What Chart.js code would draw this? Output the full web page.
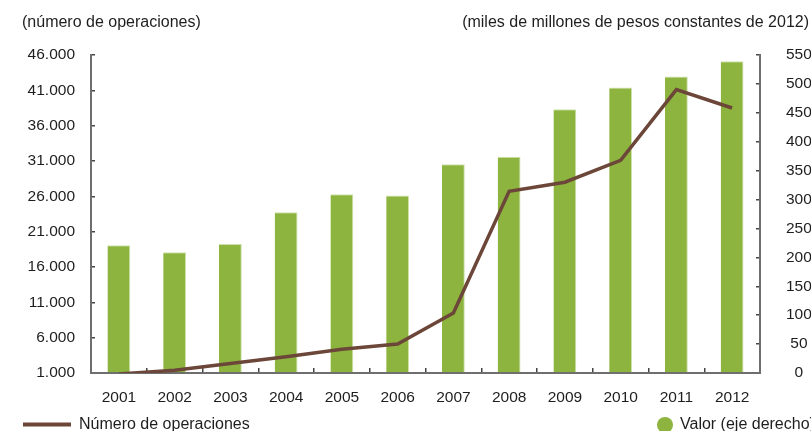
<!DOCTYPE html>
<html>
<head>
<meta charset="utf-8">
<script src="https://cdn.jsdelivr.net/npm/chart.js@4"></script>
<style>
    html, body { margin: 0; padding: 0; background: #ffffff; }
    #caja { width: 811px; height: 431px; position: relative; }
</style>
</head>
<body>
<div id="caja"><canvas id="miGrafica"></canvas></div>
<script>
// =============================
// DATOS
// =============================
const anios = ["2001", "2002", "2003", "2004", "2005", "2006", "2007", "2008", "2009", "2010", "2011", "2012"];

// número de operaciones (eje izquierdo)
const operaciones = [850, 1400, 2350, 3300, 4350, 5100, 9500, 26700, 28000, 31100, 41100, 38500];

// valor, miles de millones de pesos de 2012 (eje derecho)
const valor = [221, 209, 223, 278, 309, 307, 361, 374, 456, 494, 513, 539];

const tituloIzq = "(número de operaciones)";
const tituloDer = "(miles de millones de pesos constantes de 2012)";

const colorBarra = "#8db43e";
const colorLinea = "#6c4739";
const colorEje = "#6e6e6e";

Chart.defaults.font.family = "'Liberation Sans', Arial, sans-serif";
Chart.defaults.font.size = 15.5;
Chart.defaults.color = "#1e1e1e";

function formatoMiles(v){
    return v.toString().replace(/\B(?=(\d{3})+(?!\d))/g, ".");
}

// títulos y leyenda propios
const textosExtra = {
    id: "textosExtra",
    afterDraw(chart){
        const ctx = chart.ctx;
        const dsLinea = chart.data.datasets[0];
        const dsBarra = chart.data.datasets[1];
        ctx.save();
        ctx.font = "16px 'Liberation Sans', Arial, sans-serif";
        ctx.fillStyle = "#1e1e1e";
        ctx.textBaseline = "middle";

        ctx.textAlign = "left";
        ctx.fillText(tituloIzq, 22, 23);
        ctx.textAlign = "right";
        ctx.fillText(tituloDer, 809, 23);

        // leyenda
        ctx.strokeStyle = dsLinea.borderColor;
        ctx.lineWidth = 4;
        ctx.beginPath();
        ctx.moveTo(23, 424.5);
        ctx.lineTo(71, 424.5);
        ctx.stroke();
        ctx.textAlign = "left";
        ctx.fillText(dsLinea.label, 79, 425);

        ctx.fillStyle = dsBarra.backgroundColor;
        ctx.beginPath();
        ctx.arc(665, 425, 8, 0, Math.PI * 2);
        ctx.fill();
        ctx.fillStyle = "#1e1e1e";
        ctx.fillText(dsBarra.label, 680, 425);
        ctx.restore();
    }
};

let ctx = document.getElementById("miGrafica").getContext("2d");

let grafica = new Chart(ctx, {
    type: "bar",
    data: {
        labels: anios,
        datasets: [
            {
                type: "line",
                label: "Número de operaciones",
                data: operaciones,
                yAxisID: "y",
                borderColor: colorLinea,
                backgroundColor: colorLinea,
                borderWidth: 3.5,
                pointRadius: 0,
                tension: 0,
                order: 0
            },
            {
                type: "bar",
                label: "Valor (eje derecho)",
                data: valor,
                yAxisID: "y1",
                backgroundColor: colorBarra,
                borderColor: "#cfe2ab",
                borderWidth: { top: 1, right: 1, left: 0, bottom: 0 },
                borderSkipped: false,
                barPercentage: 0.41,
                categoryPercentage: 1,
                order: 1
            }
        ]
    },
    options: {
        responsive: true,
        maintainAspectRatio: false,
        animation: false,
        layout: {
            autoPadding: false,
            padding: { top: 55, left: 0, right: 0, bottom: 0 }
        },
        plugins: {
            legend: { display: false },
            title: { display: false },
            tooltip: { enabled: false }
        },
        scales: {
            x: {
                offset: true,
                grid: {
                    offset: true,
                    drawOnChartArea: false,
                    tickLength: -5,
                    color: "#444444",
                    lineWidth: 1.5
                },
                border: { display: true, color: colorEje, width: 2 },
                ticks: { padding: 20, maxRotation: 0 },
                afterFit(scale){ scale.height = 58; }
            },
            y: {
                position: "left",
                min: 1000,
                max: 46000,
                grid: {
                    drawOnChartArea: false,
                    tickLength: -4,
                    color: "#444444",
                    lineWidth: 1.5
                },
                border: { display: true, color: colorEje, width: 2 },
                ticks: {
                    stepSize: 5000,
                    padding: 20,
                    callback: v => formatoMiles(v)
                },
                afterFit(scale){ scale.width = 91; }
            },
            y1: {
                position: "right",
                min: 0,
                max: 550,
                grid: {
                    drawOnChartArea: false,
                    tickLength: -4,
                    color: "#444444",
                    lineWidth: 1.5
                },
                border: { display: true, color: colorEje, width: 2 },
                ticks: {
                    stepSize: 50,
                    padding: 30,
                    crossAlign: "center"
                },
                afterFit(scale){ scale.width = 51; }
            }
        }
    },
    plugins: [textosExtra]
});
</script>
</body>
</html>
